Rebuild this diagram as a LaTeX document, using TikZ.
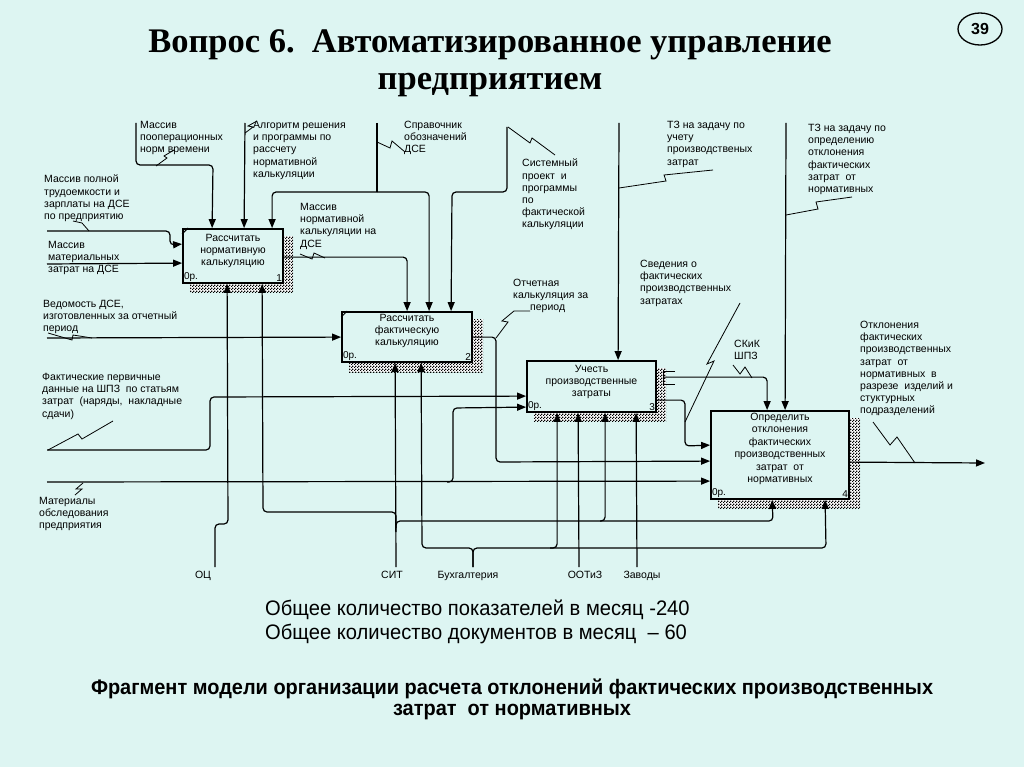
\documentclass[tikz,border=0pt]{standalone}
\usepackage{fontspec}
\setmainfont{Liberation Sans}
\newfontfamily\titlefont{Liberation Serif}
\newfontfamily\narrowfont[FakeStretch=0.96]{Liberation Sans}
\newfontfamily\narrowbf[FakeStretch=0.95]{Liberation Sans Bold}
\usetikzlibrary{arrows.meta,patterns,calc,shapes.geometric}
\definecolor{bg}{RGB}{221,245,242}
\pgfdeclarepatternformonly{shadowchk}{\pgfqpoint{0pt}{0pt}}{\pgfqpoint{3pt}{3pt}}{\pgfqpoint{3pt}{3pt}}{%
  \pgfpathrectangle{\pgfqpoint{0pt}{0pt}}{\pgfqpoint{1.5pt}{1.5pt}}%
  \pgfpathrectangle{\pgfqpoint{1.5pt}{1.5pt}}{\pgfqpoint{1.5pt}{1.5pt}}%
  \pgfusepath{fill}}
\begin{document}
\begin{tikzpicture}[x=1pt,y=-1pt,
  conn/.style={line width=1.2pt, rounded corners=4pt},
  arr/.style={conn, -{Triangle[length=9pt,width=7pt]}},
  zig/.style={line width=0.8pt},
  lab/.style={anchor=north west, inner sep=0pt, align=left, font=\fontsize{10.5}{12.2}\selectfont},
  blab/.style={anchor=base, inner sep=0pt, font=\fontsize{10.5}{12.2}\selectfont},
  box/.style={draw, line width=1.8pt, fill=bg, inner sep=0pt},
  boxtext/.style={align=center, inner sep=0pt, font=\fontsize{10.5}{12.4}\selectfont},
  corner/.style={inner sep=1.8pt, font=\fontsize{10}{12}\selectfont},
  shadowfill/.style={fill=white, postaction={pattern=shadowchk}}
]
\fill[bg] (0,0) rectangle (1024,767);
\useasboundingbox (0,0) rectangle (1024,767);

% title
\node[anchor=base, inner sep=0pt, font=\titlefont\bfseries\fontsize{34.5}{38}\selectfont] (t1) at (490,53) {Вопрос 6.\ \ Автоматизированное управление};
\node[anchor=base, inner sep=0pt, font=\titlefont\bfseries\fontsize{34.5}{38}\selectfont] (t2) at (490,90) {предприятием};
\node[draw, ellipse, line width=1.3pt, minimum width=44pt, minimum height=32pt, inner sep=0pt, font=\bfseries\fontsize{16}{18}\selectfont] (pg) at (980,29) {39};

% shadows
\path[shadowfill] (190,236) rectangle (293,292);
\path[shadowfill] (349,319) rectangle (483,372);
\path[shadowfill] (534,368) rectangle (666,421);
\path[shadowfill] (718,418) rectangle (860,508);

% boxes
\node[box, minimum width=100pt, minimum height=54pt] (b1) at (233,256) {};
\node[box, minimum width=130pt, minimum height=50pt] (b2) at (407,337) {};
\node[box, minimum width=129pt, minimum height=51pt] (b3) at (591.5,386.5) {};
\node[box, minimum width=138pt, minimum height=88pt] (b4) at (780,455) {};
\node[boxtext] (b1t) at (233,251) {Рассчитать\\нормативную\\калькуляцию};
\node[boxtext] (b2t) at (407,331) {Рассчитать\\фактическую\\калькуляцию};
\node[boxtext] (b3t) at (591.5,382) {Учесть\\производственные\\затраты};
\node[boxtext] (b4t) at (780,449) {Определить\\отклонения\\фактических\\производственных\\затрат\ \ от\\нормативных};
\foreach \b/\n in {b1/1,b2/2,b3/3,b4/4}{
  \node[corner, anchor=south west] at (\b.south west) {0р.};
  \node[corner, anchor=south east] at (\b.south east) {\n};
}
\draw[line width=1pt] ($(b1.north west)+(0,6)$) -- ($(b1.north west)+(6,0)$);
\draw[line width=1pt] ($(b2.north west)+(0,6)$) -- ($(b2.north west)+(6,0)$);

% labels
\node[lab] (l1) at (140,121) {Массив\\пооперационных\\норм времени};
\node[lab] (l2) at (253,121) {Алгоритм решения\\и программы по\\рассчету\\нормативной\\калькуляции};
\node[lab] (l3) at (404,121) {Справочник\\обозначений\\ДСЕ};
\node[lab] (l4) at (522,159) {Системный\\проект\ \ и\\программы\\по\\фактической\\калькуляции};
\node[lab] (l5) at (667,121) {ТЗ на задачу по\\учету\\производственых\\затрат};
\node[lab] (l6) at (808,124) {ТЗ на задачу по\\определению\\отклонения\\фактических\\затрат\ \ от\\нормативных};
\node[lab] (l7) at (44,175) {Массив полной\\трудоемкости и\\зарплаты на ДСЕ\\по предприятию};
\node[lab] (l8) at (48,241) {Массив\\материальных\\затрат на ДСЕ};
\node[lab] (l9) at (300,203) {Массив\\нормативной\\калькуляции на\\ДСЕ};
\node[lab] (l10) at (43,300) {Ведомость ДСЕ,\\изготовленных за отчетный\\период};
\node[lab] (l11) at (513,279) {Отчетная\\калькуляция за\\\hspace*{17pt}период};
\node[lab] (l12) at (640,260) {Сведения о\\фактических\\производственных\\затратах};
\node[lab] (l13) at (734,340) {СКиК\\ШПЗ};
\node[lab] (l14) at (860,321) {Отклонения\\фактических\\производственных\\затрат\ \ от\\нормативных\ \ в\\разрезе\ \ изделий и\\стуктурных\\подразделений};
\node[lab] (l15) at (42,373) {Фактические первичные\\данные на ШПЗ\ \ по статьям\\затрат\ \ (наряды,\ \ накладные\\сдачи)};
\node[lab] (l16) at (39,497) {Материалы\\обследования\\предприятия};
\node[blab] (m1) at (203,578) {ОЦ};
\node[blab] (m2) at (392,578) {СИТ};
\node[blab] (m3) at (468,578) {Бухгалтерия};
\node[blab] (m4) at (585,578) {ООТиЗ};
\node[blab] (m5) at (642,578) {Заводы};

% controls of box 1 and 2
\draw[arr] (136,123) |- (213,165) -- ($(b1.north west)+(30,0)$);
\draw[arr] (245,123) -- ($(b1.north west)+(62,0)$);
\draw[conn] (377,123) -- (377,192);
\draw[arr] (377,192) -| ($(b1.north west)+(90,0)$);
\draw[arr] (377,192) -| ($(b2.north west)+(88,0)$);
\draw[arr] (507,127) |- (452,192) -- ($(b2.north west)+(110,0)$);
\draw[arr] ($(b1.north east)+(0,29)$) -| ($(b2.north west)+(66,0)$);
% inputs
\draw[arr] (47,231) -| (170,245) -- ($(b1.north west)+(0,16)$);
\draw[arr] (47,264) -- ($(b1.north west)+(0,35)$);
\draw[arr] (47,338) -- ($(b2.north west)+(0,26)$);
\draw[arr] (47,450) -| (210,397) -- ($(b3.north west)+(0,36)$);
\draw[arr] (447,482) -| (453,408) -- ($(b3.north west)+(0,47)$);
\draw[arr] (47,482) -- ($(b4.north west)+(0,71)$);
\draw[arr] ($(b2.north east)+(0,26)$) -| (496,462) -- ($(b4.north west)+(0,51)$);
\draw[arr] ($(b3.north east)+(0,40)$) -| (685,446) -- ($(b4.north west)+(0,35)$);
% controls of box 3 and 4
\draw[arr] (619,123) -- ($(b3.north west)+(92,0)$);
\draw[arr] ($(b3.north east)+(7,17)$) -| ($(b4.north west)+(57,0)$);
\draw[line width=1pt] (675,371) -- (663,371) -- (663,384) -- (675,384);
\draw[arr] (786,123) -- ($(b4.north west)+(75,0)$);
% output
\coordinate (o4) at (985,463);
\draw[arr] ($(b4.north east)+(0,52)$) -- (o4);
% mechanisms
\draw[arr] (215,567) |- (228,524) -- ($(b1.south west)+(45,0)$);
\draw[arr] (396,567) -- ($(b2.south west)+(54,0)$);
\draw[arr] (396,528) |- (263,512) -- ($(b1.south west)+(80,0)$);
\draw[arr] (396,532) |- (773,521) -- ($(b4.south west)+(62,0)$);
\draw[arr] (600,521) -| ($(b3.south west)+(79,0)$);
\draw[arr] (473,567) |- (422,548) -- ($(b2.south west)+(80,0)$);
\draw[arr] (473,567) |- (826,548) -- ($(b4.south west)+(115,0)$);
\draw[arr] (550,548) -| ($(b3.south west)+(31,0)$);
\draw[arr] (579,567) -- ($(b3.south west)+(52,0)$);
\draw[arr] (637,567) -- ($(b3.south west)+(110,0)$);

% squiggles
\draw[zig] (156,166) -- (167,158) -- (164,156) -- (174,150);
\draw[zig] (245,133) -- (253,127) -- (248,126) -- (257,121);
\draw[zig] (377,142) -- (390,148) -- (392,141) -- (405,152);
\draw[zig] (508,127) -- (530,143) -- (532,138) -- (555,155);
\draw[zig] (300,254) -- (312,259) -- (314,253) -- (325,258);
\draw[zig] (73,221) -- (82,223) -- (89,231);
\draw[zig] (48,333) -- (72,340) -- (73,335) -- (92,338);
\draw[zig] (48,450) -- (78,434) -- (82,439) -- (113,421);
\draw[zig] (83,483) -- (76,489) -- (82,489) -- (75,495);
\draw[zig] (496,338) -- (508,322) -- (502,321) -- (514,311) -- (530,311);
\draw[zig] (619,188) -- (666,181) -- (664,175) -- (713,170);
\draw[zig] (786,215) -- (818,209) -- (816,202) -- (852,197);
\draw[zig] (733,365) -- (740,374) -- (745,367) -- (752,378);
\draw[zig] (740,303) -- (707,364) -- (714,361) -- (685,422);
\draw[zig] (873,422) -- (890,445) -- (897,437) -- (915,463);

% bottom texts
\node[anchor=base west, inner sep=0pt, font=\narrowfont\fontsize{21}{24}\selectfont] (s1) at (265,615) {Общее количество показателей в месяц -240};
\node[anchor=base west, inner sep=0pt, font=\narrowfont\fontsize{21}{24}\selectfont] (s2) at (265,639) {Общее количество документов в месяц\ \ – 60};
\node[anchor=base, inner sep=0pt, font=\narrowbf\fontsize{21}{24}\selectfont] (f1) at (512,694) {Фрагмент модели организации расчета отклонений фактических производственных};
\node[anchor=base, inner sep=0pt, font=\narrowbf\fontsize{21}{24}\selectfont] (f2) at (512,715) {затрат\ \ от нормативных};
\end{tikzpicture}
\end{document}
